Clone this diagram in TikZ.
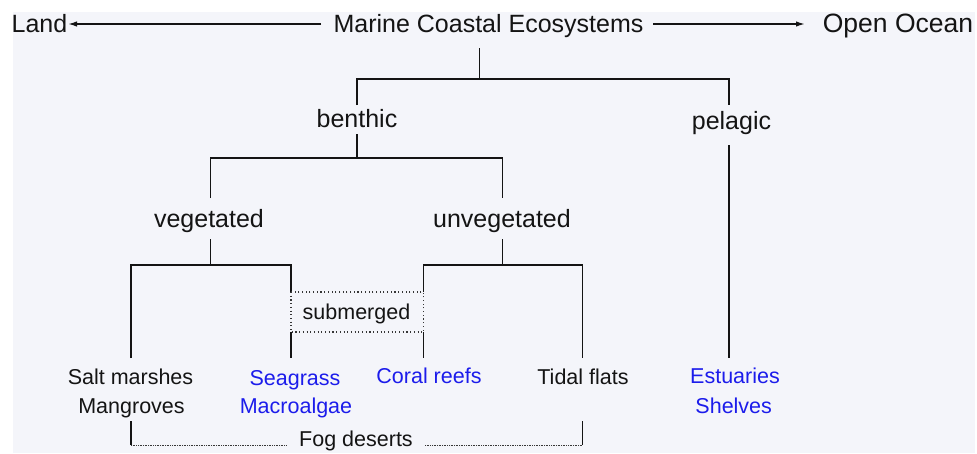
\documentclass[tikz,border=0pt]{standalone}
\usepackage{fontspec}
\setmainfont{Liberation Sans}
\usetikzlibrary{arrows.meta}
\definecolor{bgc}{RGB}{244,245,250}
\definecolor{leafblue}{RGB}{28,28,235}
\definecolor{ink}{RGB}{20,20,20}
\begin{document}
\begin{tikzpicture}[x=1pt,y=-1pt,
  big/.style={font=\fontsize{25}{30}\selectfont, text=ink, inner sep=0pt, anchor=base},
  small/.style={font=\fontsize{21.5}{26}\selectfont, text=ink, inner sep=0pt, anchor=base},
  bluetext/.style={text=leafblue},
  tree/.style={draw=ink, line width=1.6pt},
  arrowline/.style={draw=ink, line width=1.5pt, -{Latex[length=9pt,width=5.5pt]}},
  dotbox/.style={draw=ink!85, line width=1.1pt, dash pattern=on 1.1pt off 2.6pt},
  fogline/.style={draw=ink!85, line width=1pt, dash pattern=on 0.7pt off 1pt}]

\useasboundingbox (0,0) rectangle (977,453);
\fill[bgc] (13,12) rectangle (975,453);

% top row
\node[big] (land) at (39.5,32) {Land};
\node[big] (title) at (488.5,32) {Marine Coastal Ecosystems};
\node[big, font=\fontsize{26.5}{30}\selectfont] (ocean) at (898,32) {Open Ocean};
\coordinate (tl) at (321,24); \coordinate (lt) at (68,24);
\coordinate (tr) at (653,24); \coordinate (ot) at (805,24);
\draw[arrowline] (tl) -- (lt);
\draw[arrowline] (tr) -- (ot);

% level labels
\node[big] (benthic) at (357,127) {benthic};
\node[big] (pelagic) at (731.5,129) {pelagic};
\node[big] (veg) at (209,227) {vegetated};
\node[big] (unveg) at (502,227) {unvegetated};

% leaves
\node[small] (salt) at (130.5,384) {Salt marshes};
\node[small] (mang) at (131.5,413) {Mangroves};
\node[small, bluetext] (seag) at (295,385.5) {Seagrass};
\node[small, bluetext] (macro) at (296,413) {Macroalgae};
\node[small, bluetext] (coral) at (429,383) {Coral reefs};
\node[small] (tidal) at (583,384) {Tidal flats};
\node[small, bluetext] (estu) at (735,383.5) {Estuaries};
\node[small, bluetext] (shelv) at (733.7,413) {Shelves};
\node[small] (sub) at (356.5,319) {submerged};
\node[small] (fog) at (356,446) {Fog deserts};

% junction coordinates
\coordinate (t0) at (479.5,48);  \coordinate (t1) at (479.5,79);
\coordinate (b0) at (357,105);   \coordinate (b1) at (357,79);
\coordinate (p0) at (729,105);   \coordinate (p1) at (729,79);
\coordinate (b2) at (357,134);   \coordinate (b3) at (357,158);
\coordinate (v0) at (210.5,198); \coordinate (v1) at (210.5,158);
\coordinate (u0) at (502.5,198); \coordinate (u1) at (502.5,158);
\coordinate (p2) at (729,145);   \coordinate (p3) at (729,358);
\coordinate (v2) at (210.5,239); \coordinate (v3) at (210.5,265);
\coordinate (s0) at (131,358);   \coordinate (s1) at (131,265);
\coordinate (g1) at (291,265);   \coordinate (g0) at (291,292);
\coordinate (g2) at (291,332);   \coordinate (g3) at (291,358);
\coordinate (u2) at (502.5,239); \coordinate (u3) at (502.5,265);
\coordinate (c0) at (423.5,292); \coordinate (c1) at (423.5,265);
\coordinate (c2) at (423.5,332); \coordinate (c3) at (423.5,358);
\coordinate (f1) at (582.5,265); \coordinate (f0) at (582.5,358);
\coordinate (m0) at (131,421);   \coordinate (m1) at (131,445);
\coordinate (fl) at (287,445);   \coordinate (fr) at (425,445);
\coordinate (k1) at (582.5,445); \coordinate (k0) at (582.5,421);

% tree
\draw[tree] (t0) -- (t1);
\draw[tree] (b0) -- (b1) -- (p1) -- (p0);
\draw[tree] (b2) -- (b3);
\draw[tree] (v0) -- (v1) -- (u1) -- (u0);
\draw[tree] (p2) -- (p3);
\draw[tree] (v2) -- (v3);
\draw[tree] (s0) -- (s1) -- (g1) -- (g0);
\draw[tree] (g2) -- (g3);
\draw[tree] (u2) -- (u3);
\draw[tree] (c0) -- (c1) -- (f1) -- (f0);
\draw[tree] (c2) -- (c3);

% submerged box
\draw[dotbox] (g0) rectangle (c2);

% fog deserts bracket
\draw[tree, line width=1.4pt] (m0) -- (m1);
\draw[tree, line width=1.4pt] (k0) -- (k1);
\draw[fogline] (m1) -- (fl);
\draw[fogline] (fr) -- (k1);
\end{tikzpicture}
\end{document}
